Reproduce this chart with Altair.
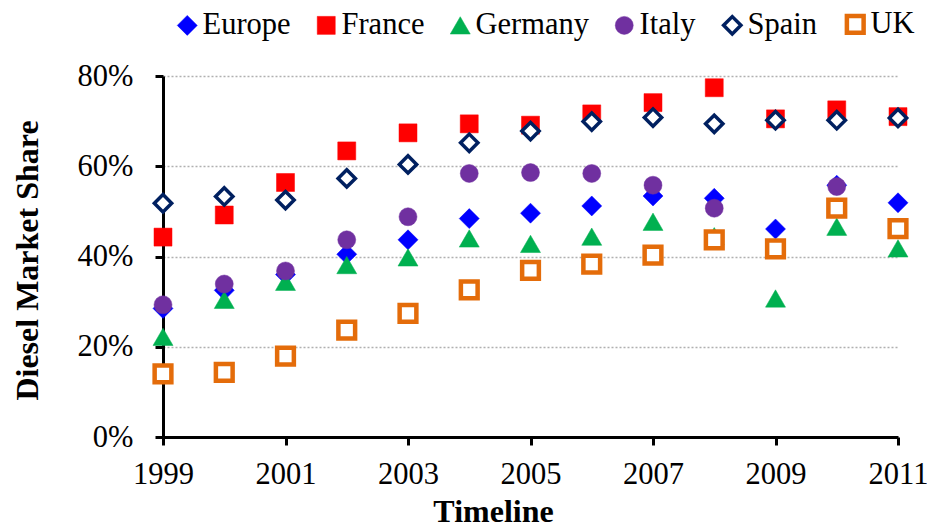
import altair as alt
import pandas as pd

years = list(range(1999, 2012))
series_names = ["Europe", "France", "Germany", "Italy", "Spain", "UK"]

europe = [28.5, 32.5, 36.0, 40.5, 43.7, 48.4, 49.6, 51.2, 53.4, 52.9, 46.1, 55.8, 51.9]
france = [44.3, 49.2, 56.4, 63.4, 67.4, 69.4, 69.1, 71.6, 74.1, 77.4, 70.5, 72.5, 71.0]
germany = [22.2, 30.4, 34.4, 38.1, 39.8, 44.0, 42.8, 44.4, 47.7, 44.5, 30.7, 46.6, 41.8]
italy = [29.3, 33.9, 36.8, 43.7, 48.8, 58.4, 58.6, 58.4, 55.8, 50.7, None, 55.5, None]
spain = [51.8, 53.3, 52.5, 57.3, 60.4, 65.2, 67.8, 69.9, 70.8, 69.4, 70.2, 70.2, 70.7]
uk = [14.0, 14.3, 17.9, 23.7, 27.4, 32.6, 36.9, 38.3, 40.3, 43.7, 41.7, 50.7, 46.2]

x_ticks = [1999, 2001, 2003, 2005, 2007, 2009, 2011]
y_ticks = [0, 0.2, 0.4, 0.6, 0.8]

shapes = ["diamond", "square", "triangle-up", "circle", "diamond", "square"]
fills = ["#0000FF", "#FF0000", "#00B050", "#7030A0", "#FFFFFF", "#FFFFFF"]
strokes = ["#0000FF", "#FF0000", "#00B050", "#7030A0", "#002060", "#E46C0A"]
stroke_widths = [0.5, 0.5, 0.5, 0.5, 3.5, 4.5]
sizes = [400, 324, 400, 324, 300, 280]

rows = []
for name, vals in zip(series_names, [europe, france, germany, italy, spain, uk]):
    for yr, v in zip(years, vals):
        if v is not None:
            rows.append({"year": yr, "share": v / 100.0, "series": name})
df = pd.DataFrame(rows)

FONT = "Liberation Serif"
leg = alt.Legend(title=None, labelFont=FONT, labelFontSize=30.5, labelColor="black",
                 labelOffset=0, columnPadding=20, orient="none", legendX=9, legendY=-67,
                 direction="horizontal", padding=0, symbolOpacity=1)

chart = alt.Chart(df).mark_point(filled=True, opacity=1).encode(
    x=alt.X("year:Q",
            scale=alt.Scale(domain=[1999, 2011], nice=False, zero=False),
            axis=alt.Axis(values=x_ticks, format="d", title="Timeline", grid=False,
                          labelFlush=False, labelPadding=14,
                          titleX=330, titleY=84, titleAnchor="middle",
                          titleAlign="center", titleBaseline="alphabetic")),
    y=alt.Y("share:Q",
            scale=alt.Scale(domain=[0, 0.8], nice=False),
            axis=alt.Axis(values=y_ticks, format=".0%", title="Diesel Market Share",
                          grid=True, labelFlush=False, labelPadding=22, titleAngle=270,
                          titleX=-126, titleY=184, titleAlign="center",
                          titleBaseline="alphabetic")),
    shape=alt.Shape("series:N", scale=alt.Scale(domain=series_names, range=shapes), legend=leg),
    fill=alt.Fill("series:N", scale=alt.Scale(domain=series_names, range=fills), legend=leg),
    stroke=alt.Stroke("series:N", scale=alt.Scale(domain=series_names, range=strokes), legend=leg),
    strokeWidth=alt.StrokeWidth("series:N", scale=alt.Scale(type="ordinal", domain=series_names, range=stroke_widths), legend=leg),
    size=alt.Size("series:N", scale=alt.Scale(type="ordinal", domain=series_names, range=sizes), legend=leg),
).properties(
    width=735,
    height=361,
    autosize=alt.AutoSizeParams(type="none"),
    padding={"left": 155, "top": 68, "right": 29, "bottom": 92},
).configure(
    font=FONT
).configure_view(
    stroke=None
).configure_axis(
    domainColor="black", domainWidth=3,
    tickColor="black", tickWidth=3, tickSize=8,
    labelFont=FONT, labelFontSize=30.5, labelColor="black",
    titleFont=FONT, titleFontSize=32, titleFontWeight="bold", titleColor="black",
    gridColor="#b0b0b0", gridDash=[2, 2], gridWidth=1.5,
).configure_legend(
    labelFont=FONT, labelFontSize=30.5, labelColor="black",
)

chart.save("out.html", embed_options={"renderer": "svg", "actions": False})
